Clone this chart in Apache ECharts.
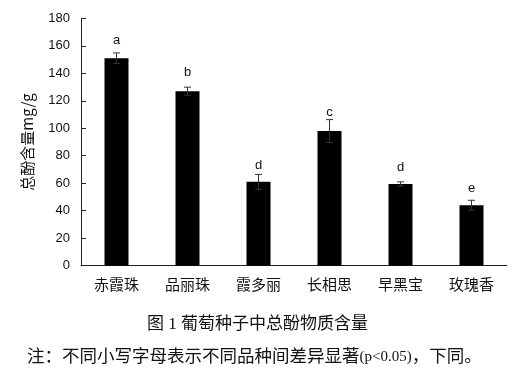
<!DOCTYPE html>
<html>
<head>
<meta charset="utf-8">
<script src="https://cdn.jsdelivr.net/npm/echarts@6/dist/echarts.min.js"></script>
<style>
html,body{margin:0;padding:0;background:#fff;}
#c{width:527px;height:382px;}
</style>
</head>
<body>
<div id="c"></div>
<script>
const categories = ['赤霞珠', '品丽珠', '霞多丽', '长相思', '早黑宝', '玫瑰香'];
const means = [151, 127, 61, 98, 59.5, 44];
const errors = [3.8, 2.9, 5.4, 8.3, 1.5, 3.6];
const letters = ['a', 'b', 'd', 'c', 'd', 'e'];
const letterValues = [164, 140.3, 73.2, 111.5, 71.5, 56.2];
const yTicks = [0, 20, 40, 60, 80, 100, 120, 140, 160, 180];

const chart = echarts.init(document.getElementById('c'), null, {renderer: 'canvas'});
const errData = categories.map((c, i) => [i, means[i], errors[i], letterValues[i]]);
const serifFont = "'Liberation Serif', 'Noto Sans CJK SC', serif";

chart.setOption({
  animation: false,
  backgroundColor: '#fff',
  grid: {left: 81, right: 20, top: 18.3, bottom: 116.3, containLabel: false},
  xAxis: {
    type: 'category',
    data: categories,
    axisLine: {lineStyle: {color: '#222', width: 1}},
    axisTick: {inside: true, length: 5, lineStyle: {color: '#222'}},
    axisLabel: {color: '#111', fontSize: 15, margin: 11, fontFamily: "'Noto Sans CJK SC', sans-serif"}
  },
  yAxis: {
    type: 'value',
    min: yTicks[0],
    max: yTicks[yTicks.length - 1],
    interval: 20,
    name: '总酚含量mg/g',
    nameLocation: 'middle',
    nameRotate: 90,
    nameGap: 46,
    nameTextStyle: {color: '#111', fontSize: 15, fontFamily: "'Noto Sans CJK SC', sans-serif"},
    axisLine: {show: true, lineStyle: {color: '#222', width: 1}},
    axisTick: {show: true, inside: true, length: 5, lineStyle: {color: '#222'}},
    axisLabel: {color: '#111', fontSize: 13, margin: 11, fontFamily: "'Liberation Sans', Arial, sans-serif"},
    splitLine: {show: false}
  },
  series: [
    {
      type: 'bar',
      data: means,
      barWidth: 24,
      itemStyle: {color: '#000'}
    },
    {
      type: 'custom',
      data: errData,
      z: 5,
      renderItem: function (params, api) {
        const i = api.value(0);
        const m = api.value(1);
        const e = api.value(2);
        const lv = api.value(3);
        const top = api.coord([i, m + e]);
        const bot = api.coord([i, m - e]);
        const lp = api.coord([i, lv]);
        const hw = 3.5;
        const st = {stroke: '#333', lineWidth: 1};
        return {
          type: 'group',
          children: [
            {type: 'line', shape: {x1: top[0], y1: top[1], x2: bot[0], y2: bot[1]}, style: st},
            {type: 'line', shape: {x1: top[0] - hw, y1: top[1], x2: top[0] + hw, y2: top[1]}, style: st},
            {type: 'line', shape: {x1: bot[0] - hw, y1: bot[1], x2: bot[0] + hw, y2: bot[1]}, style: st},
            {type: 'text', x: lp[0], y: lp[1], style: {
              text: letters[params.dataIndex], fill: '#111', fontSize: 13,
              fontFamily: "'Liberation Sans', Arial, sans-serif",
              align: 'center', verticalAlign: 'middle'
            }}
          ]
        };
      }
    }
  ],
  graphic: [
    {type: 'text', left: 147, top: 316.5, style: {
      text: '图 1 葡萄种子中总酚物质含量', fill: '#111', fontSize: 17,
      fontFamily: serifFont
    }},
    {type: 'text', left: 27, top: 348.5, style: {
      text: '{c|注：不同小写字母表示不同品种间差异显著}{l|(p<0.05)}{c|，下同。}',
      fill: '#111',
      rich: {
        c: {fontSize: 17.5, fontFamily: serifFont, fill: '#111'},
        l: {fontSize: 15, fontFamily: serifFont, fill: '#111'}
      }
    }}
  ]
});
</script>
</body>
</html>
